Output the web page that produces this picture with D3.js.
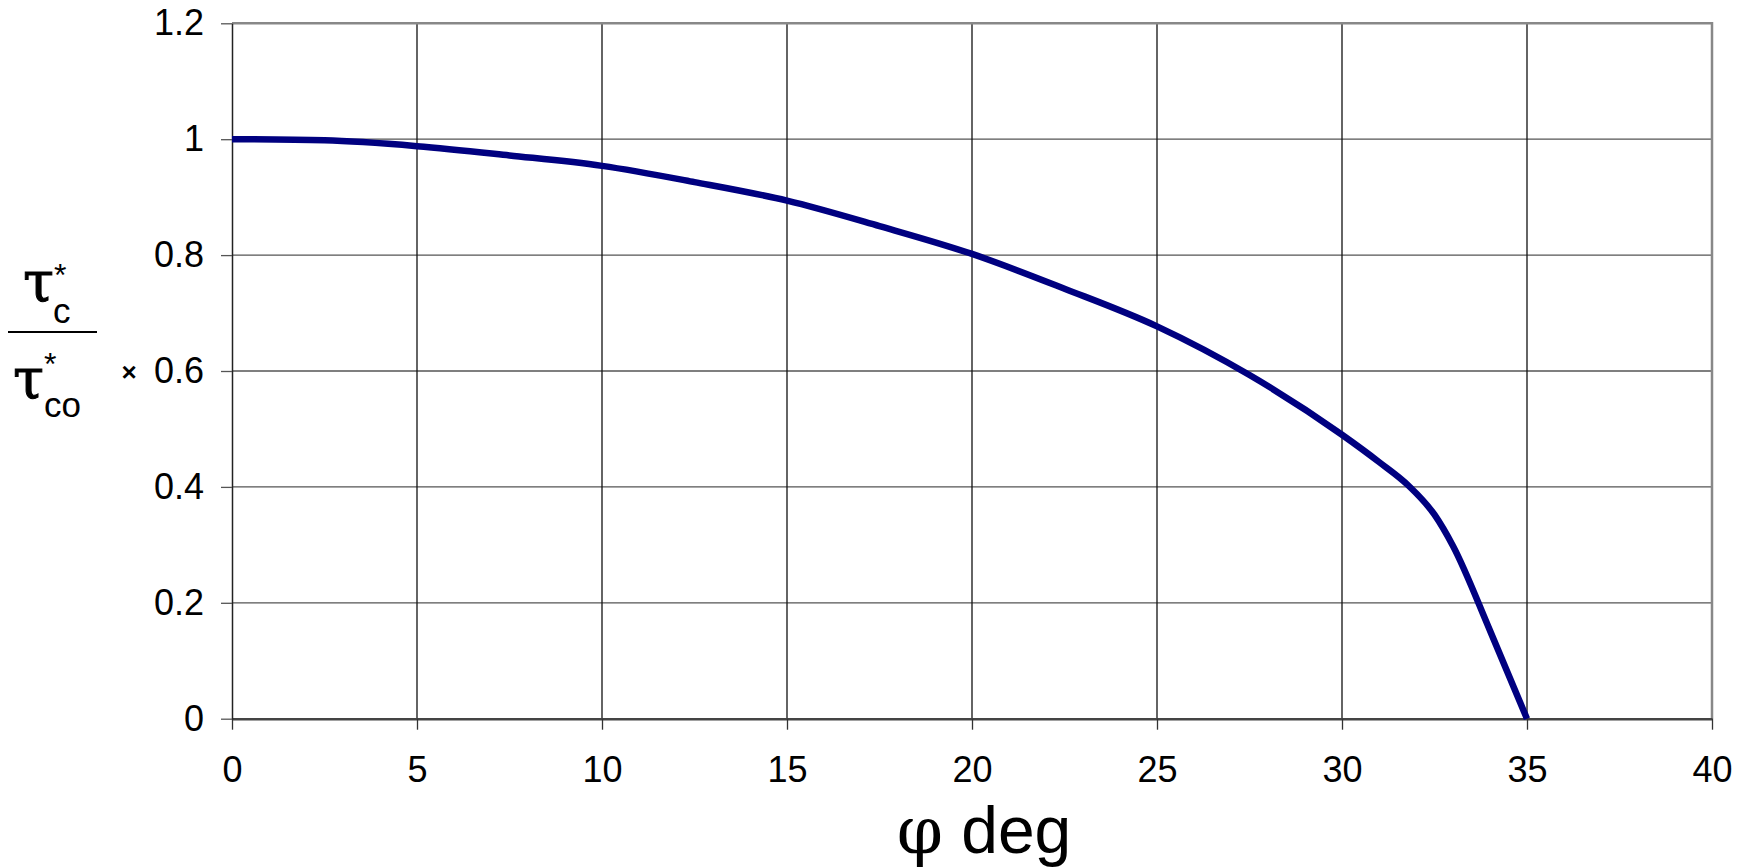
<!DOCTYPE html>
<html>
<head>
<meta charset="utf-8">
<script src="https://cdn.jsdelivr.net/npm/d3@7"></script>
<style>
  body { margin: 0; background: #fff; }
  .chart text { font-family: "Liberation Sans", Arial, sans-serif; fill: #000; }
  .tick text { font-size: 36px; }
  .greek { font-family: "DejaVu Serif", "Liberation Serif", serif !important; }
</style>
</head>
<body>
<svg class="chart"></svg>
<script>
// angle phi in degrees and the ratio tau*c / tau*co
var phiDeg = [0, 2.5, 5, 7.5, 10, 12.5, 15, 17.5, 20, 22.5, 25, 27.5, 30, 31, 31.8, 32.5, 33, 34, 35];
var tauRatio = [1.0, 0.998, 0.988, 0.972, 0.954, 0.926, 0.894, 0.85, 0.802, 0.742, 0.677, 0.593, 0.49, 0.443, 0.402, 0.352, 0.298, 0.152, 0];

var xTicks = [0, 5, 10, 15, 20, 25, 30, 35, 40];
var yTicks = [0, 0.2, 0.4, 0.6, 0.8, 1, 1.2];

var chartWidth = 1748, chartHeight = 867;
var plotLeft = 232, plotRight = 1712, plotTop = 23.3, plotBottom = 718.7;

var svg = d3.select('.chart').attr("width", chartWidth).attr("height", chartHeight);

var x = d3.scaleLinear().domain([0, 40]).range([plotLeft, plotRight]);
var y = d3.scaleLinear().domain([0, 1.2]).range([plotBottom, plotTop]);

function buildGrid() {
  svg.append("g").selectAll("line").data(yTicks.filter(function(d) { return d > 0 && d < 1.2; }))
     .enter().append("line")
     .attr("x1", plotLeft).attr("x2", plotRight)
     .attr("y1", function(d) { return y(d); }).attr("y2", function(d) { return y(d); })
     .attr("stroke", "#555").attr("stroke-width", 1.3);

  svg.append("g").selectAll("line").data(xTicks.filter(function(d) { return d > 0 && d < 40; }))
     .enter().append("line")
     .attr("y1", plotTop).attr("y2", plotBottom)
     .attr("x1", function(d) { return x(d); }).attr("x2", function(d) { return x(d); })
     .attr("stroke", "#111").attr("stroke-width", 1.3);

  // frame top and right
  svg.append("path")
     .attr("d", "M" + plotLeft + "," + plotTop + "H" + plotRight + "V" + plotBottom)
     .attr("fill", "none").attr("stroke", "#888").attr("stroke-width", 2.5);
}

function buildXAxis() {
  var g = svg.append("g")
     .attr("transform", "translate(0," + plotBottom + ")")
     .call(d3.axisBottom(x).tickValues(xTicks).tickSize(11).tickPadding(27).tickSizeOuter(0));
  g.select(".domain").attr("stroke", "#444").attr("stroke-width", 2.5);
  g.selectAll(".tick line").attr("stroke", "#333").attr("stroke-width", 1.3);

  svg.append("text")
     .attr("x", 984).attr("y", 853)
     .attr("text-anchor", "middle")
     .style("font-size", "66px")
     .call(function(t) {
       t.append("tspan").attr("class", "greek").style("font-family", "Liberation Serif").text("φ");
       t.append("tspan").text(" deg");
     });
}

function buildYAxis() {
  var g = svg.append("g")
     .attr("transform", "translate(" + plotLeft + ",0)")
     .call(d3.axisLeft(y).tickValues(yTicks).tickSize(11).tickPadding(17).tickSizeOuter(0)
       .tickFormat(function(d) { return String(d); }));
  g.select(".domain").attr("stroke", "#222").attr("stroke-width", 1.5);
  g.selectAll(".tick line").attr("stroke", "#555").attr("stroke-width", 1.3);

  // fraction label tau*c / tau*co
  var lab = svg.append("g");
  lab.append("text").attr("class", "greek").attr("x", 23).attr("y", 301).style("font-size", "56px")
     .style("stroke", "#000").style("stroke-width", 1).text("τ");
  lab.append("text").attr("x", 53).attr("y", 323).style("font-size", "35px").text("c");
  lab.append("text").attr("x", 54).attr("y", 286).style("font-size", "32px").text("*");
  lab.append("line").attr("x1", 8).attr("x2", 97).attr("y1", 332).attr("y2", 332)
     .attr("stroke", "#000").attr("stroke-width", 2);
  lab.append("text").attr("class", "greek").attr("x", 13).attr("y", 398).style("font-size", "56px")
     .style("stroke", "#000").style("stroke-width", 1).text("τ");
  lab.append("text").attr("x", 44).attr("y", 417).style("font-size", "35px").text("co");
  lab.append("text").attr("x", 44).attr("y", 375).style("font-size", "32px").text("*");
  lab.append("text").attr("x", 129).attr("y", 381).attr("text-anchor", "middle")
     .style("font-size", "26px").style("font-weight", "bold").text("×");
}

buildGrid();
buildXAxis();
buildYAxis();

var line = d3.line()
  .x(function(d, i) { return x(phiDeg[i]); })
  .y(function(d) { return y(d); })
  .curve(d3.curveMonotoneX);

svg.append("path")
   .datum(tauRatio)
   .attr("d", line)
   .attr("fill", "none")
   .attr("stroke", "#000080")
   .attr("stroke-width", 6.5);
</script>
</body>
</html>
